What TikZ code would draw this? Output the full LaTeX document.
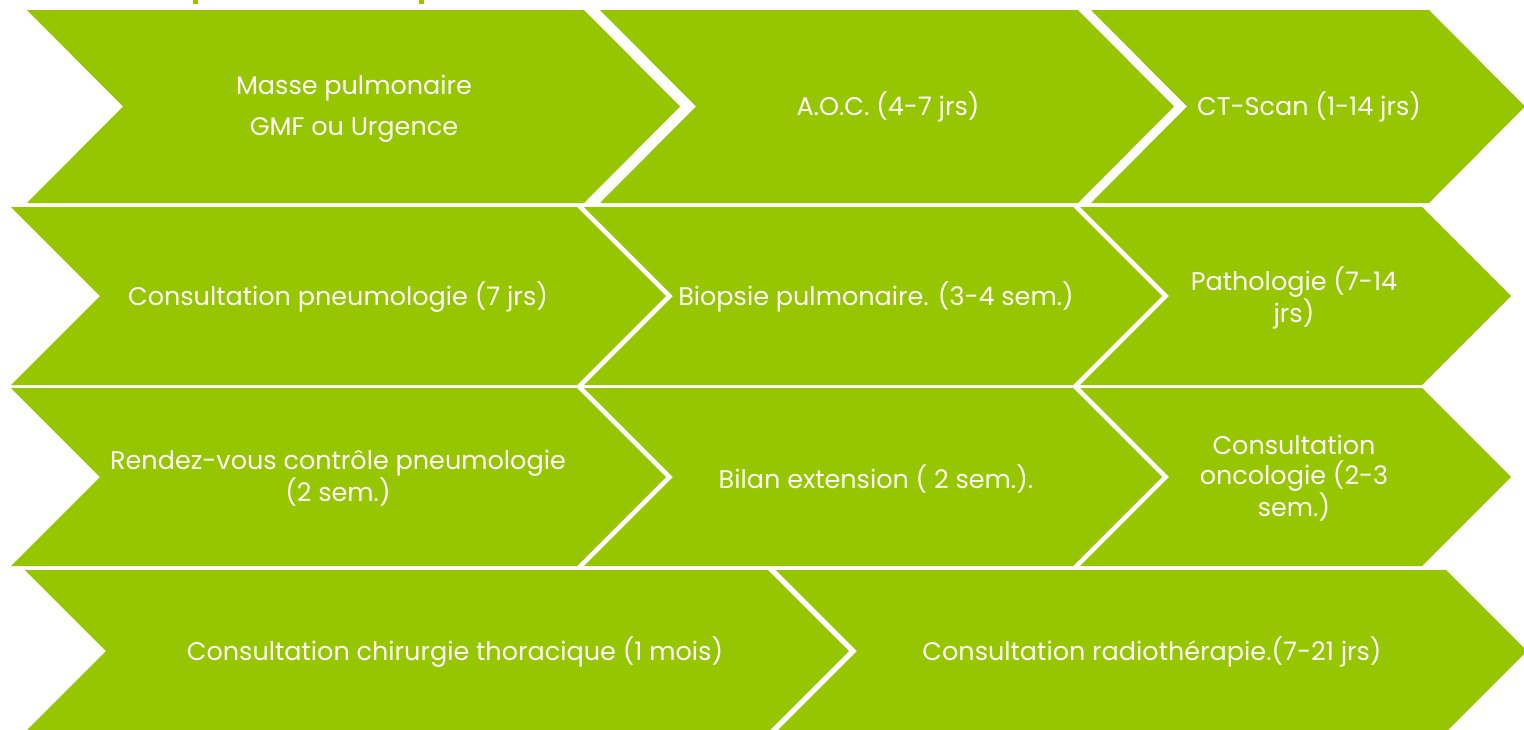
\documentclass[tikz,border=0pt]{standalone}
\usepackage{fontspec}
\setmainfont{Poppins}
\definecolor{leaf}{HTML}{96C600}

% one chevron: left, right, top, bottom, point depth
\newcommand{\arrowbox}[5]{%
  \fill[leaf] (#1,#3) -- (#2,#3) -- ({#2+#5},{(#3+#4)/2}) -- (#2,#4)
    -- (#1,#4) -- ({#1+#5},{(#3+#4)/2}) -- cycle;}

\tikzset{
  lbl/.style={text=white, align=center, inner sep=0pt,
    font=\fontsize{25.5}{30}\selectfont}
}

\begin{document}
\begin{tikzpicture}[x=1pt,y=-1pt]
  \clip (0,0) rectangle (1524,729);
  \fill[white] (0,0) rectangle (1524,729);
  % bits of the cut-off title
  \fill[leaf] (193,0) rectangle (198,4);
  \fill[leaf] (419,0) rectangle (424,4);

  % row 1
  \arrowbox{27}{584}{10}{203}{96}
  \arrowbox{600}{1078}{10}{203}{96}
  \arrowbox{1091}{1429}{10}{203}{96}
  % row 2
  \arrowbox{11}{577}{207}{385}{89}
  \arrowbox{584}{1073}{207}{385}{89}
  \arrowbox{1080}{1422}{207}{385}{89}
  % row 3
  \arrowbox{11}{577}{388}{566}{89}
  \arrowbox{584}{1073}{388}{566}{89}
  \arrowbox{1080}{1422}{388}{566}{89}
  % row 4
  \arrowbox{25}{768}{570}{732}{81}
  \arrowbox{776}{1446}{570}{732}{81}

  \node[lbl] (masse) at (354,109) {Masse pulmonaire\\[11pt]GMF ou Urgence};
  \node[lbl] (aoc) at (888,107) {A.O.C. (4-7 jrs)};
  \node[lbl] (ctscan) at (1309,107) {CT-Scan (1-14 jrs)};

  \node[lbl] (pneumo) at (338,297) {Consultation pneumologie (7 jrs)};
  \node[lbl] (biopsie) at (876,297) {Biopsie pulmonaire. (3-4 sem.)};
  \node[lbl] (patho) at (1294,298) {Pathologie (7-14\\jrs)};

  \node[lbl] (controle) at (338,478) {Rendez-vous contrôle pneumologie\\(2 sem.)};
  \node[lbl] (bilan) at (876,479) {Bilan extension ( 2 sem.).};
  \node[lbl] (onco) at (1294,478) {Consultation\\oncologie (2-3\\sem.)};

  \node[lbl] (chirurgie) at (455,652) {Consultation chirurgie thoracique (1 mois)};
  \node[lbl] (radio) at (1152,652) {Consultation radiothérapie.(7-21 jrs)};
\end{tikzpicture}
\end{document}
